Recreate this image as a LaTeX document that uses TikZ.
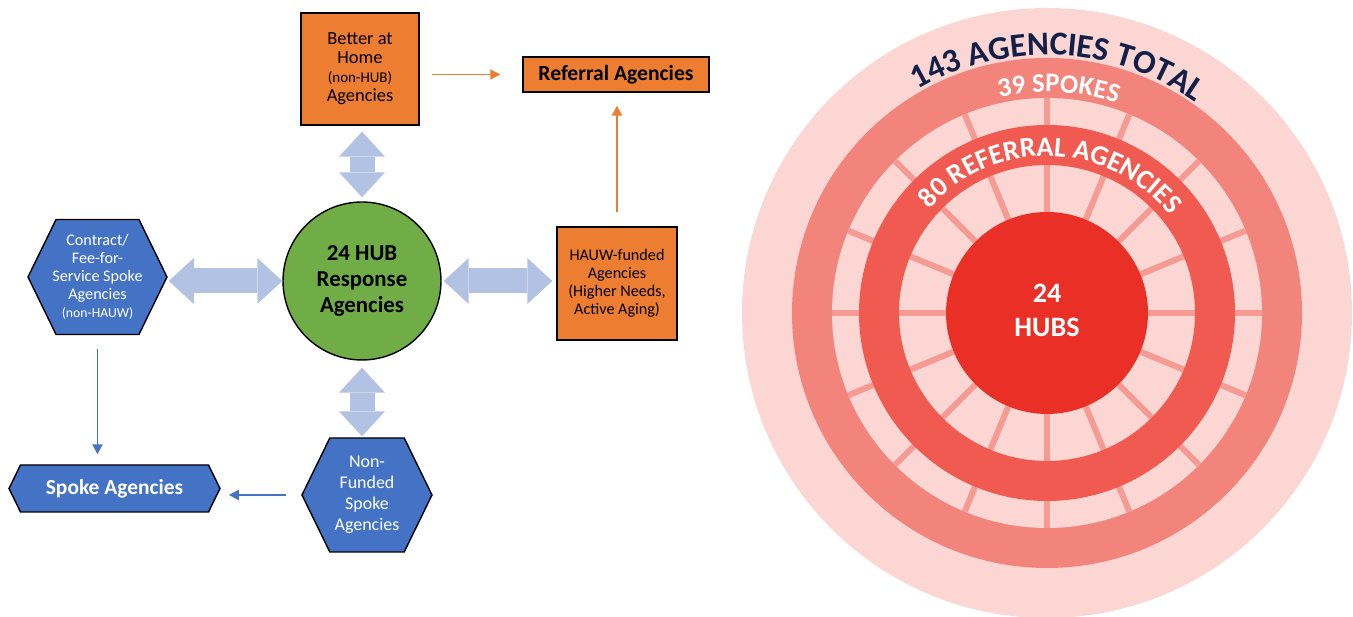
\documentclass[tikz,border=0pt]{standalone}
\usepackage{fontspec}
\setmainfont{Carlito}
\usepackage{tikz}
\usetikzlibrary{arrows.meta}
\usetikzlibrary{positioning}
\usetikzlibrary{shapes.symbols}
\usetikzlibrary{decorations.text}
\definecolor{boxorange}{HTML}{ED7D31}
\definecolor{boxblue}{HTML}{4472C4}
\definecolor{hubgreen}{HTML}{70AD47}
\definecolor{fatblue}{HTML}{B2C2E3}
\definecolor{ringpale}{HTML}{FBD6D3}
\definecolor{ringsalmon}{HTML}{F3847B}
\definecolor{ringred}{HTML}{F15A50}
\definecolor{ringspoke}{HTML}{F59B94}
\definecolor{hubred}{HTML}{EA3026}
\definecolor{ringnavy}{HTML}{13204A}
\newcommand{\ringbig}{\bfseries\fontsize{19}{19}\selectfont}
\newcommand{\ringmid}{\bfseries\fontsize{16}{16}\selectfont}
\newcommand{\ringsmall}{\bfseries\fontsize{15.3}{15.3}\selectfont}
\tikzset{orangebox/.style = {draw, fill = boxorange, line width = 0.8pt, inner sep = 0, align = center}}
\tikzset{hexbox/.style = {draw, fill = boxblue, text = white, line width = 0.8pt, shape = signal,
                          signal to = east and west, signal pointer angle = 128, inner sep = 0, align = center}}
\tikzset{fat/.style = {draw = fatblue, line width = 0.5cm,
                       arrows = {Triangle[length = 0.5cm, width = 0.92cm, line width = 0pt]-Triangle[length = 0.5cm, width = 0.92cm, line width = 0pt]}}}
\tikzset{orangearrow/.style = {draw = boxorange, line width = 1.1pt, arrows = {-Triangle[length = 0.2cm, width = 0.2cm]}}}
\tikzset{bluearrow/.style = {draw = boxblue, line width = 1.1pt, arrows = {-Triangle[length = 0.2cm, width = 0.2cm]}}}

\begin{document}
\begin{tikzpicture}[x = 0.02cm, y = 0.02cm]
  \useasboundingbox (0, 0) rectangle (1353, 617);

  \node [orangebox, minimum width = 2.36cm, minimum height = 2.24cm, font = \fontsize{10.5}{10.8}\selectfont] (bah) at (360, 548)
    {Better at\\Home\\{\fontsize{8.5}{10.8}\selectfont (non-HUB)}\\Agencies};
  \node [orangebox, minimum width = 3.72cm, minimum height = 0.7cm, font = \bfseries\fontsize{12.3}{13}\selectfont] (referral) at (616, 542.5)
    {Referral Agencies};
  \node [orangebox, minimum width = 2.4cm, minimum height = 2.26cm, font = \fontsize{9.2}{10.2}\selectfont] (hauw) at (617, 333.5)
    {HAUW-funded\\Agencies\\(Higher Needs,\\Active Aging)};
  \node [circle, draw, fill = hubgreen, line width = 0.8pt, minimum size = 3.16cm, inner sep = 0, align = center,
         font = \bfseries\fontsize{13}{15}\selectfont] (hub) at (362, 336) {24 HUB\\Response\\Agencies};
  \node [hexbox, inner xsep = -0.18cm, minimum width = 2.78cm, minimum height = 2.3cm, font = \fontsize{9.2}{10.2}\selectfont] (contract) at (97.5, 340)
    {Contract/\\Fee-for-\\Service Spoke\\Agencies\\{\fontsize{7.8}{10.2}\selectfont (non-HAUW)}};
  \node [hexbox, minimum width = 2.6cm, minimum height = 2.28cm, font = \fontsize{10.2}{11.9}\selectfont] (nonfunded) at (367, 122)
    {Non-\\Funded\\Spoke\\Agencies};
  \node [hexbox, minimum width = 4.22cm, minimum height = 0.94cm, font = \bfseries\fontsize{12.2}{13}\selectfont] (spoke) at (114.5, 128.5)
    {Spoke Agencies};

  \draw [orangearrow, shorten < = 0.24cm, shorten > = 0.44cm] (bah.east |- referral.west) -- (referral.west);
  \draw [orangearrow, shorten < = 0.28cm, shorten > = 0.26cm] (hauw.north) -- (hauw.north |- referral.south);
  \draw [bluearrow, shorten < = 0.28cm, shorten > = 0.2cm] (contract.south) -- (contract.south |- spoke.north);
  \draw [bluearrow, shorten < = 0.3cm, shorten > = 0.16cm] (nonfunded.west) -- (nonfunded.west -| spoke.east);

  \draw [fat, shorten < = 0.02cm] (hub.west -| contract.east) -- (hub.west);
  \draw [fat, shorten < = 0.04cm, shorten > = 0.08cm] (hub.east) -- (hub.east -| hauw.west);
  \draw [fat, shorten < = 0.08cm, shorten > = 0.12cm] (hub.north) -- (hub.north |- bah.south);
  \draw [fat, shorten < = 0.14cm, shorten > = 0.02cm] (hub.south) -- (hub.south |- nonfunded.north);

  \coordinate (ring) at (1047, 304);
  \fill [ringpale] (ring) circle [radius = 305];
  \fill [ringsalmon] (ring) circle [radius = 255];
  \fill [ringpale] (ring) circle [radius = 215];
  \foreach \a in {0, 22.5, ..., 337.5}
    \draw [ringspoke, line width = 0.12cm] (ring) ++(\a:101) -- ++(\a:114);
  \draw [ringred, line width = 0.8cm] (ring) circle [radius = 168];
  \fill [hubred] (ring) circle [radius = 101];
  \node [align = center, text = white, font = \bfseries\fontsize{16}{19.3}\selectfont] (hubs) at (1047, 307) {24\\HUBS};

  \path [decorate, decoration = {text along path, text align = center, text color = ringnavy, text = {|\ringbig|143 AGENCIES TOTAL}}]
    (ring) ++(177.5:258) arc [start angle = 177.5, end angle = -2.5, radius = 258];
  \path [decorate, decoration = {text along path, text align = center, text color = white, text = {|\ringsmall|39 SPOKES}}]
    (ring) ++(177:221) arc [start angle = 177, end angle = -3, radius = 221];
  \path [decorate, decoration = {text along path, text align = center, text color = white, text = {|\ringmid|80 REFERRAL AGENCIES}}]
    (ring) ++(178.5:157) arc [start angle = 178.5, end angle = -1.5, radius = 157];
\end{tikzpicture}
\end{document}
